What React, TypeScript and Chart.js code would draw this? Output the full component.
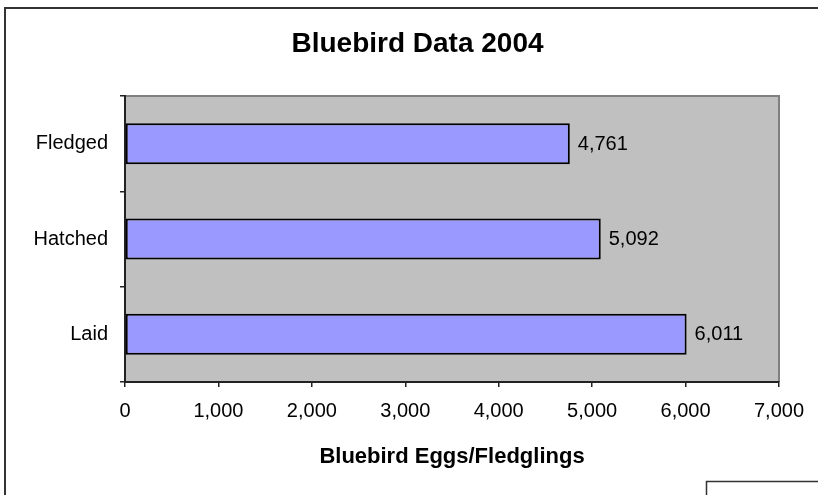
import { useEffect, useRef } from 'react';
import { Chart, registerables } from 'chart.js';

Chart.register(...registerables);

const chartTitle = 'Bluebird Data 2004';
const xAxisTitle = 'Bluebird Eggs/Fledglings';
const categories = ['Fledged', 'Hatched', 'Laid'];
const counts = [4761, 5092, 6011];
const xTickValues = [0, 1000, 2000, 3000, 4000, 5000, 6000, 7000];
const xTickLabels = ['0', '1,000', '2,000', '3,000', '4,000', '5,000', '6,000', '7,000'];

const FONT = '"Liberation Sans", Arial, Helvetica, sans-serif';

const decor = {
  id: 'decor',
  beforeDraw(chart: any) {
    const { ctx, chartArea: a } = chart;
    ctx.save();
    // outer chart border
    ctx.strokeStyle = '#333333';
    ctx.lineWidth = 2;
    ctx.strokeRect(5, 8, 830, 530);
    // legend box remnant
    ctx.lineWidth = 1.5;
    ctx.beginPath();
    ctx.moveTo(706.5, 520);
    ctx.lineTo(706.5, 481.5);
    ctx.lineTo(840, 481.5);
    ctx.stroke();
    // plot area
    ctx.fillStyle = '#C0C0C0';
    ctx.fillRect(a.left, a.top, a.right - a.left, a.bottom - a.top);
    ctx.strokeStyle = '#808080';
    ctx.lineWidth = 2;
    ctx.beginPath();
    ctx.moveTo(a.left, a.top);
    ctx.lineTo(a.right, a.top);
    ctx.lineTo(a.right, a.bottom);
    ctx.stroke();
    // titles
    ctx.fillStyle = '#000000';
    ctx.textAlign = 'center';
    ctx.textBaseline = 'alphabetic';
    ctx.font = `bold 28px ${FONT}`;
    ctx.fillText(chartTitle, 417.5, 52);
    ctx.font = `bold 22px ${FONT}`;
    ctx.fillText(xAxisTitle, (a.left + a.right) / 2, 463);
    ctx.restore();
  },
  afterDatasetsDraw(chart: any) {
    const { ctx } = chart;
    const meta = chart.getDatasetMeta(0);
    ctx.save();
    ctx.fillStyle = '#000000';
    ctx.font = `20px ${FONT}`;
    ctx.textAlign = 'left';
    ctx.textBaseline = 'alphabetic';
    meta.data.forEach((bar: any, i: number) => {
      ctx.fillText(counts[i].toLocaleString('en-US'), bar.x + 8, bar.y + 6);
    });
    ctx.restore();
  },
};

export default function App() {
  const ref = useRef<HTMLCanvasElement | null>(null);
  useEffect(() => {
    if (!ref.current) return;
    const chart = new Chart(ref.current, {
      type: 'bar',
      data: {
        labels: categories,
        datasets: [
          {
            data: counts,
            backgroundColor: '#9999FF',
            borderColor: '#000000',
            borderWidth: 2,
            borderSkipped: false,
            categoryPercentage: 1,
            barPercentage: 0.43,
          },
        ],
      },
      options: {
        indexAxis: 'y',
        animation: false,
        responsive: false,
        devicePixelRatio: 1,
        layout: { padding: { left: 0, right: 39, top: 96, bottom: 0 } },
        plugins: {
          legend: { display: false },
          title: { display: false },
          tooltip: { enabled: false },
        },
        scales: {
          x: {
            type: 'linear',
            min: 0,
            max: 7000,
            afterBuildTicks: (scale: any) => {
              scale.ticks = xTickValues.map((v) => ({ value: v }));
            },
            afterFit: (scale: any) => {
              scale.height = 113;
            },
            ticks: {
              color: '#000000',
              font: { family: FONT, size: 20 },
              padding: 12,
              maxRotation: 0,
              autoSkip: false,
              callback: (v: any) => {
                const idx = xTickValues.indexOf(Number(v));
                return idx >= 0 ? xTickLabels[idx] : '';
              },
            },
            grid: {
              drawOnChartArea: false,
              drawTicks: true,
              tickLength: 5,
              color: '#222222',
              lineWidth: 1.5,
            },
            border: { display: true, color: '#222222', width: 2 },
          },
          y: {
            type: 'category',
            afterFit: (scale: any) => {
              scale.width = 125;
            },
            ticks: {
              color: '#000000',
              font: { family: FONT, size: 20 },
              padding: 12,
            },
            grid: {
              offset: true,
              drawOnChartArea: false,
              drawTicks: true,
              tickLength: 5,
              color: '#222222',
              lineWidth: 1.5,
            },
            border: { display: true, color: '#222222', width: 2 },
          },
        },
      },
      plugins: [decor],
    });
    return () => chart.destroy();
  }, []);
  return (
    <div style={{ position: 'absolute', left: 0, top: 0, width: 818, height: 495, background: '#ffffff' }}>
      <canvas ref={ref} width={818} height={495} style={{ display: 'block' }} />
    </div>
  );
}
